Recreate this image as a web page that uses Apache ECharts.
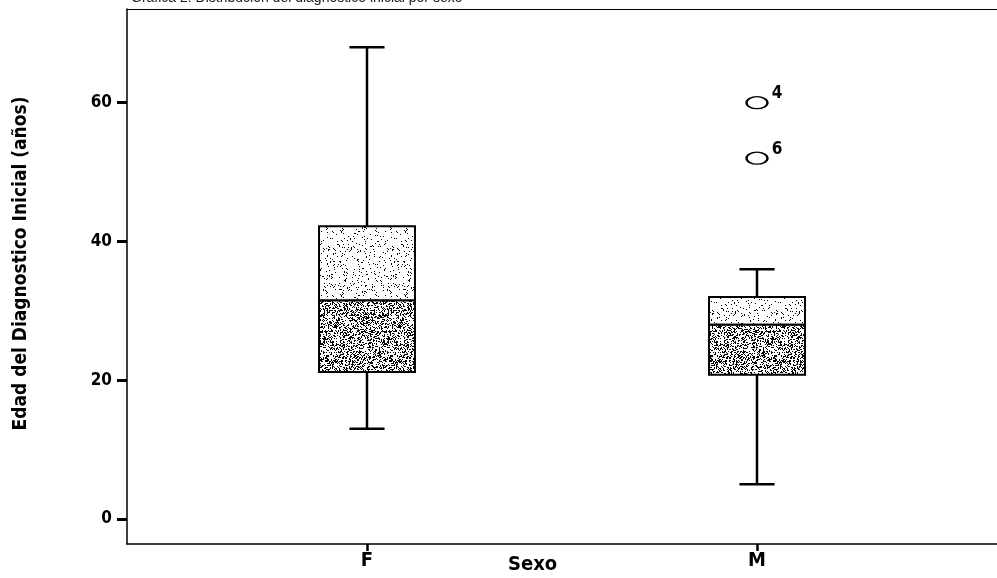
<!DOCTYPE html>
<html>
<head>
<meta charset="utf-8">
<script src="https://cdn.jsdelivr.net/npm/echarts@6/dist/echarts.min.js"></script>
<style>
  html, body { margin: 0; padding: 0; background: #fff; }
  #chart { width: 997px; height: 578px; }
</style>
</head>
<body>
<div id="chart"></div>
<script>
// datos
const categories = ['F', 'M'];
const whiskerLow = [13, 5];
const q1 = [21.2, 20.8];
const median = [31.5, 28];
const q3 = [42.2, 32];
const whiskerHigh = [68, 36];

const outlierCategory = ['M', 'M'];
const outlierValues = [60, 52];
const outlierLabels = ['4', '6'];

const yTicks = [0, 20, 40, 60];

const narrow = "'Liberation Sans Narrow', 'DejaVu Sans Condensed', sans-serif";

// textura punteada (determinista) para el relleno de las cajas
function stipple(density, seed) {
    const size = 64;
    const c = document.createElement('canvas');
    c.width = size;
    c.height = size;
    const ctx = c.getContext('2d');
    ctx.fillStyle = '#fff';
    ctx.fillRect(0, 0, size, size);
    ctx.fillStyle = '#000';
    let s = seed;
    for (let i = 0; i < size * size; i++) {
        s = (s * 16807) % 2147483647;
        if ((s % 1000) / 1000 < density) ctx.fillRect(i % size, Math.floor(i / size), 1, 1);
    }
    return c;
}
const lightFill = { image: stipple(0.07, 12345), repeat: 'repeat' };
const denseFill = { image: stipple(0.36, 67890), repeat: 'repeat' };

const boxData = categories.map((c, i) => [i, whiskerLow[i], q1[i], median[i], q3[i], whiskerHigh[i]]);

function renderBox(params, api) {
    const x = api.value(0);
    const lo = api.coord([x, api.value(1)]);
    const b1 = api.coord([x, api.value(2)]);
    const md = api.coord([x, api.value(3)]);
    const b3 = api.coord([x, api.value(4)]);
    const hi = api.coord([x, api.value(5)]);
    const band = api.size([1, 0])[0];
    const bw = band * 0.246;
    const cw = band * 0.09;
    const cx = lo[0];
    const line = { stroke: '#000', lineWidth: 2.5 };
    return {
        type: 'group',
        children: [
            { type: 'line', shape: { x1: cx, y1: hi[1], x2: cx, y2: b3[1] }, style: line },
            { type: 'line', shape: { x1: cx, y1: b1[1], x2: cx, y2: lo[1] }, style: line },
            { type: 'line', shape: { x1: cx - cw / 2, y1: hi[1], x2: cx + cw / 2, y2: hi[1] }, style: line },
            { type: 'line', shape: { x1: cx - cw / 2, y1: lo[1], x2: cx + cw / 2, y2: lo[1] }, style: line },
            { type: 'rect', shape: { x: cx - bw / 2, y: b3[1], width: bw, height: md[1] - b3[1] },
              style: { fill: lightFill, stroke: '#000', lineWidth: 2 } },
            { type: 'rect', shape: { x: cx - bw / 2, y: md[1], width: bw, height: b1[1] - md[1] },
              style: { fill: denseFill, stroke: '#000', lineWidth: 2 } }
        ]
    };
}

const chart = echarts.init(document.getElementById('chart'), null, { renderer: 'canvas' });

chart.setOption({
    animation: false,
    title: {
        text: 'Gráfica 2. Distribución del diagnóstico inicial por sexo',
        left: 126,
        top: -14,
        textStyle: { fontSize: 14, fontWeight: 'normal', color: '#222', fontFamily: 'Arial, sans-serif' }
    },
    grid: [
        { left: 127, right: 0, top: 9, bottom: 34 },
        { left: 172, right: 45, top: 9, bottom: 34 }
    ],
    xAxis: [
        {
            gridIndex: 0, type: 'value', min: 0, max: 1,
            axisLine: { show: true, onZero: false, lineStyle: { color: '#000', width: 1.5 } },
            axisTick: { show: false }, axisLabel: { show: false }, splitLine: { show: false }
        },
        {
            gridIndex: 1, type: 'category', data: categories, boundaryGap: true,
            axisLine: { show: true, onZero: false, lineStyle: { color: '#000', opacity: 0 } },
            axisTick: { show: true, alignWithLabel: true, length: 7, lineStyle: { color: '#000', width: 2.5, opacity: 1 } },
            axisLabel: { margin: 7, color: '#000', fontSize: 20, fontWeight: 'bold', fontFamily: narrow },
            splitLine: { show: false }
        },
        {
            // borde superior del marco
            gridIndex: 0, type: 'value', position: 'top', min: 0, max: 1,
            axisLine: { show: true, onZero: false, lineStyle: { color: '#000', width: 1 } },
            axisTick: { show: false }, axisLabel: { show: false }, splitLine: { show: false }
        }
    ],
    yAxis: [
        {
            gridIndex: 0, type: 'value', min: -3.6, max: 73.5,
            name: 'Edad del Diagnostico Inicial (años)',
            nameLocation: 'middle', nameGap: 96,
            nameTextStyle: { color: '#000', fontSize: 19, fontWeight: 'bold', fontFamily: narrow, padding: [0, 0, 0, 26] },
            axisLine: { show: true, onZero: false, lineStyle: { color: '#000', width: 1.5 } },
            axisTick: { show: true, inside: false, length: 10, customValues: yTicks, lineStyle: { color: '#000', width: 3 } },
            axisLabel: { margin: 15, customValues: yTicks, color: '#000', fontSize: 17, fontWeight: 'bold', fontFamily: narrow },
            splitLine: { show: false }
        },
        {
            gridIndex: 1, type: 'value', min: -3.6, max: 73.5, show: false
        }
    ],
    graphic: [
        {
            type: 'text', left: 508, top: 555,
            style: { text: 'Sexo', fill: '#000', font: 'bold 20px ' + narrow }
        }
    ],
    series: [
        {
            type: 'custom',
            xAxisIndex: 1, yAxisIndex: 1,
            renderItem: renderBox,
            encode: { x: 0, y: [1, 2, 3, 4, 5] },
            data: boxData
        },
        {
            type: 'scatter',
            xAxisIndex: 1, yAxisIndex: 1,
            symbol: 'circle',
            symbolSize: [21, 12],
            itemStyle: { color: '#fff', borderColor: '#000', borderWidth: 1.8, opacity: 1 },
            label: {
                show: true, position: 'right', distance: 3, offset: [0, -9],
                formatter: p => outlierLabels[p.dataIndex],
                color: '#000', fontSize: 17, fontWeight: 'bold', fontFamily: narrow
            },
            data: outlierValues.map((v, i) => [outlierCategory[i], v])
        }
    ]
});
</script>
</body>
</html>
